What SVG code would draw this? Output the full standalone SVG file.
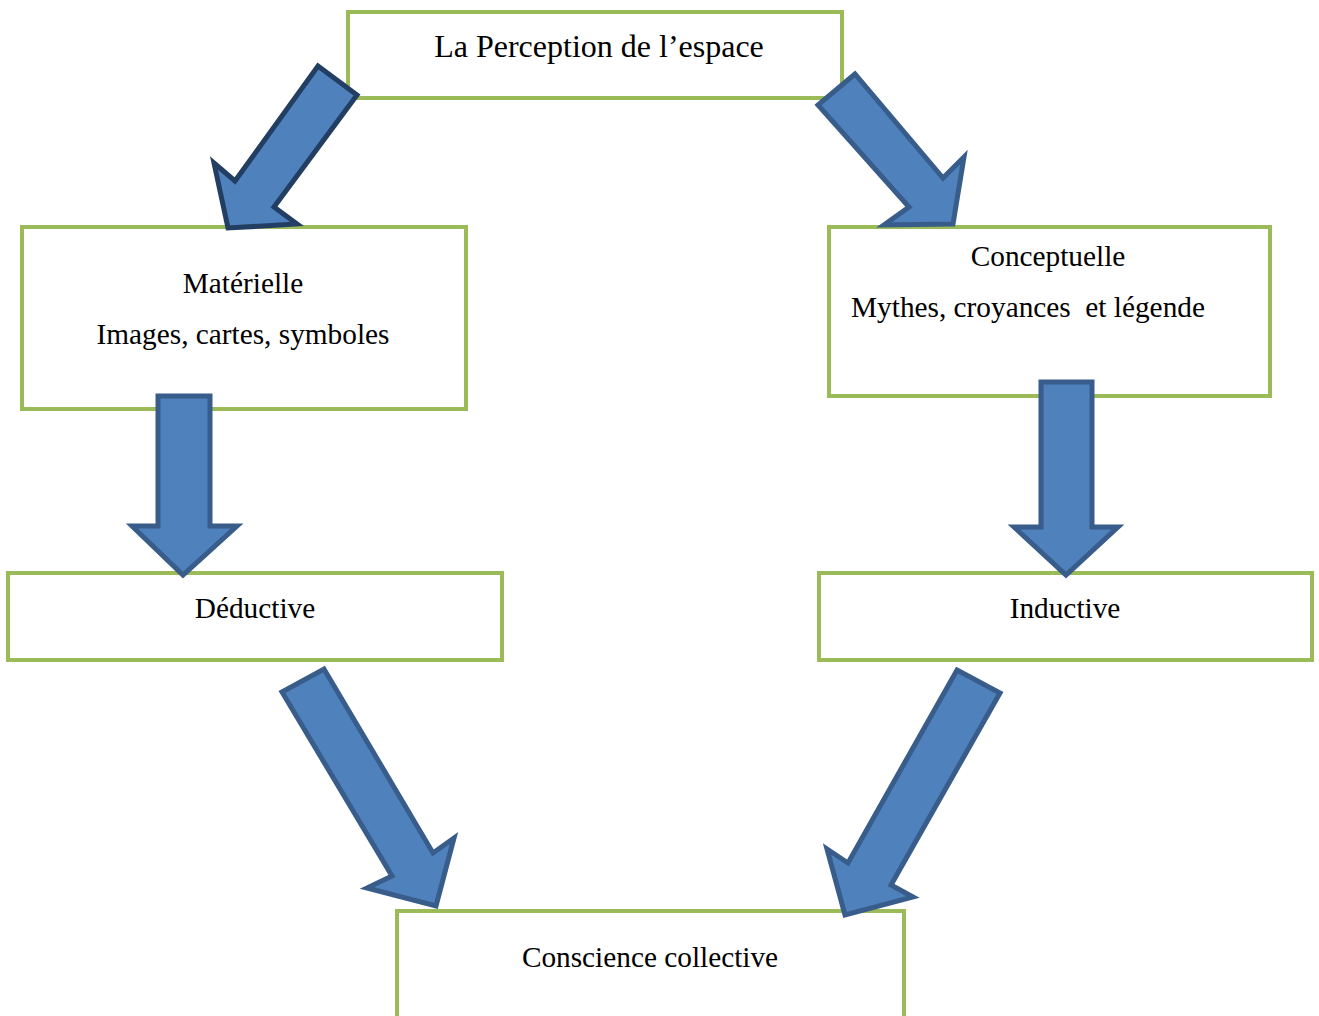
<svg xmlns="http://www.w3.org/2000/svg" width="1319" height="1016" viewBox="0 0 1319 1016">
<style>
.box{fill:#fff;stroke:#9BBB59;stroke-width:4}
.t{font-family:"Liberation Serif","Times New Roman",serif;font-size:29.3px;fill:#000;text-anchor:middle}
.title{font-size:32px}
.arr{fill:#4F81BD;stroke:#385D8A;stroke-width:5;stroke-linejoin:miter}
.arr.dark{stroke:#233E63}
</style>
<rect width="1319" height="1016" fill="#fff"/>
<g id="n-perception"><rect class="box" x="348" y="12" width="494" height="86"/><text class="t title" x="599" y="57">La Perception de l’espace</text></g>
<g id="n-materielle"><rect class="box" x="22" y="227" width="444" height="182"/><text class="t" x="243" y="293">Matérielle</text><text class="t" x="243" y="344">Images, cartes, symboles</text></g>
<g id="n-conceptuelle"><rect class="box" x="829" y="227" width="441" height="169"/><text class="t" x="1048" y="266">Conceptuelle</text><text class="t" x="1028" y="317" xml:space="preserve">Mythes, croyances  et légende</text></g>
<g id="n-deductive"><rect class="box" x="8" y="573" width="494" height="87"/><text class="t" x="255" y="618">Déductive</text></g>
<g id="n-inductive"><rect class="box" x="819" y="573" width="493" height="87"/><text class="t" x="1065" y="618">Inductive</text></g>
<g id="n-conscience"><rect class="box" x="397" y="911" width="507" height="110"/><text class="t" x="650" y="967">Conscience collective</text></g>
<g id="connectors">
<polygon class="arr dark" points="318,66 357,95 274,207 297,224 228,228 214,163 235,181"/>
<polygon class="arr" points="855,74 818,105 909,207 884,225 953,224 964,157 943,178"/>
<polygon class="arr" points="158,396 210,396 210,526 237,526 183,575 132,526 158,526"/>
<polygon class="arr" points="1041,382 1092,382 1092,527 1118,527 1066,575 1014,527 1041,527"/>
<polygon class="arr" points="282,692 324,669 433,853 454,838 436,906 367,888 392,876"/>
<polygon class="arr" points="957,670 1000,693 891,885 913,897 845,915 827,849 848,863"/>
</g>
</svg>
